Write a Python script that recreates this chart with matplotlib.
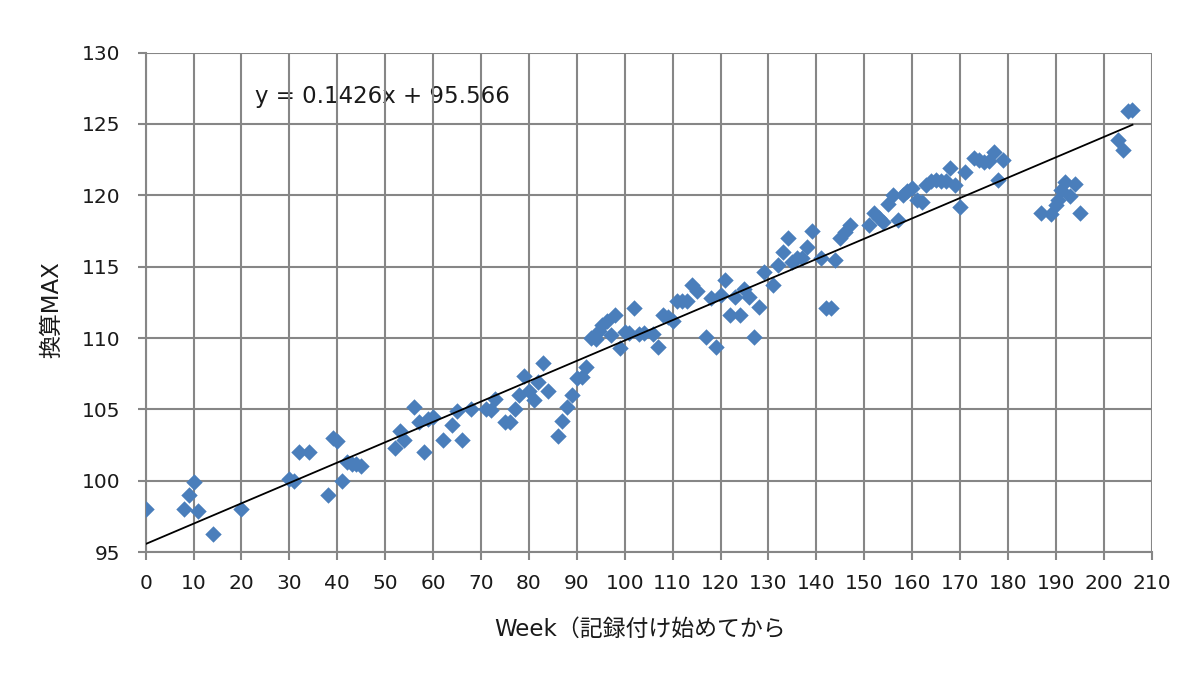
import matplotlib
matplotlib.use("Agg")
import matplotlib.pyplot as plt
import numpy as np

plt.rcParams['font.family'] = ['DejaVu Sans', 'Noto Sans CJK JP']

weeks = [0, 8, 9, 10, 11, 14, 20, 30, 31, 32, 34, 38, 39, 40, 41, 42, 43, 44, 45,
         52, 53, 54, 56, 57, 58, 59, 60, 62, 64, 65, 66, 68, 71, 72, 73, 75, 76, 77,
         78, 79, 80, 81, 82, 83, 84, 86, 87, 88, 89, 90, 91, 92, 93, 94, 94.7, 95.3,
         96.4, 97.1, 97.9, 99, 100, 101, 102, 103, 104, 106, 107, 108, 109, 110, 111,
         112, 113, 114, 115, 117, 118, 119, 120, 121, 122, 123, 124, 125, 126, 127,
         128, 129, 131, 132, 133, 134, 135, 136, 137, 138, 139, 141, 142, 143, 144,
         145, 146, 147, 151, 152, 153, 154, 155, 156, 157, 158, 159, 160, 161, 162,
         163, 164, 165, 166, 167, 168, 169, 170, 171, 173, 174, 175, 176, 177, 178,
         179, 187, 189, 190, 190.5, 191, 192, 193, 194, 195, 203, 204, 205, 206]
max_values = [98, 98, 99, 99.9, 97.9, 96.25, 98, 100.15, 100, 102, 102, 99, 103, 102.8,
              100, 101.3, 101.2, 101.2, 101,
              102.3, 103.5, 102.85, 105.2, 104.1, 102, 104.3, 104.5, 102.85, 103.9, 104.9,
              102.85, 105, 105, 104.95, 105.7, 104.1, 104.1, 105,
              106, 107.35, 106.3, 105.65, 106.9, 108.25, 106.3, 103.1, 104.2, 105.2, 106,
              107.2, 107.3, 108, 110, 109.9, 110.5, 110.9,
              111.2, 110.2, 111.6, 109.3, 110.4, 110.35, 112.1, 110.3, 110.35, 110.3, 109.4,
              111.6, 111.5, 111.2, 112.6,
              112.6, 112.6, 113.7, 113.3, 110.05, 112.8, 109.4, 113, 114.06, 111.6, 112.9,
              111.6, 113.45, 112.85, 110.05,
              112.15, 114.6, 113.7, 115.1, 116, 117, 115.35, 115.6, 115.6, 116.4, 117.5,
              115.6, 112.1, 112.1, 115.5,
              117, 117.45, 117.9, 117.95, 118.75, 118.4, 118.15, 119.4, 120.05, 118.3,
              120.05, 120.3, 120.5, 119.7, 119.5,
              120.75, 121, 121.1, 121, 121, 121.9, 120.75, 119.2, 121.6, 122.6, 122.5,
              122.3, 122.4, 123, 121.1,
              122.5, 118.75, 118.7, 119.3, 119.7, 120.4, 120.9, 119.95, 120.8, 118.75,
              123.9, 123.2, 125.9, 126]

slope = 0.1426
intercept = 95.566
equation_label = "y = 0.1426x + 95.566"
x_ticks = list(range(0, 211, 10))
y_ticks = list(range(95, 131, 5))
x_label = "Week（記録付け始めてから"
y_label = "換算MAX"

grid_color = '#868686'
text_color = '#1a1a1a'
fs = 14.5
fig = plt.figure(figsize=(12, 6.75), dpi=100)
ax = fig.add_axes([0.1214, 0.1821, 0.8383, 0.7400])

ax.text(22.8, 126.9, equation_label, fontsize=16.5, color=text_color,
        ha='left', va='center', zorder=0.5)

ax.scatter(weeks, max_values, marker='D', s=70, color='#4A7EBB', linewidths=0, zorder=3)
xs = np.array([min(weeks), max(weeks)])
ax.plot(xs, slope * xs + intercept, color='black', lw=1.3, zorder=4)

ax.set_xlim(0, 210)
ax.set_ylim(95, 130)
ax.set_xticks(x_ticks)
ax.set_yticks(y_ticks)
ax.grid(True, color=grid_color, lw=1.5, zorder=1)
ax.set_axisbelow(True)
for s in ['top', 'right']:
    ax.spines[s].set_visible(False)
for s in ['left', 'bottom']:
    ax.spines[s].set_color(grid_color)
    ax.spines[s].set_linewidth(1.5)
ax.tick_params(axis='both', direction='out', length=6, width=1.5, color=grid_color,
               labelsize=fs, labelcolor=text_color)
ax.tick_params(axis='y', pad=12)
ax.tick_params(axis='x', pad=10)

ax.set_xlabel(x_label, fontsize=16.5, color=text_color)
ax.xaxis.set_label_coords(0.491, -0.132)
ax.set_ylabel(y_label, fontsize=16.5, color=text_color)
ax.yaxis.set_label_coords(-0.082, 0.485)

fig.savefig('out.png', dpi=100)
